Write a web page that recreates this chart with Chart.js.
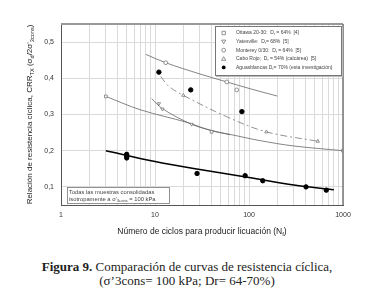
<!DOCTYPE html>
<html>
<head>
<meta charset="utf-8">
<script src="https://cdn.jsdelivr.net/npm/chart.js@4.4.0/dist/chart.umd.min.js"></script>
<style>
  body { margin: 0; background: #fff; width: 374px; height: 307px; overflow: hidden; position: relative; }
  #wrap { position: absolute; left: 0; top: 0; width: 374px; height: 245px; }
  .cap { position: absolute; left: 0; width: 374px; text-align: center; white-space: nowrap;
         font-family: "Liberation Serif", "Times New Roman", serif; font-size: 13px; color: #222; line-height: 15px; }
</style>
</head>
<body>
<div id="wrap"><canvas id="c"></canvas></div>
<div class="cap" style="top:259px"><b>Figura 9.</b> Comparación de curvas de resistencia cíclica,</div>
<div class="cap" style="top:273px">(σ’3cons= 100 kPa; Dr= 64-70%)</div>
<script>
// values (N cycles, CRR)
const ottawaN = [3, 40, 1000];
const ottawaCRR = [0.35, 0.252, 0.2];
const ottawaCurveN = [3, 7, 22, 40, 63, 130, 300, 1000];
const ottawaCurve = [0.35, 0.313, 0.278, 0.255, 0.245, 0.228, 0.213, 0.2];

const yatesN = [11, 12, 24.5];
const yatesCRR = [0.33, 0.315, 0.273];
const yatesCurveN = [9.2, 12, 24.5, 40, 63];
const yatesCurve = [0.344, 0.316, 0.273, 0.256, 0.244];

const montereyN = [13, 58, 74];
const montereyCRR = [0.443, 0.39, 0.368];
const montereyCurveN = [8, 13, 30, 58, 110, 200];
const montereyCurve = [0.466, 0.443, 0.412, 0.39, 0.369, 0.351];

const caboN = [20, 153, 540];
const caboCRR = [0.353, 0.252, 0.226];
const caboCurveN = [11.5, 14, 20, 60, 153, 540];
const caboCurve = [0.405, 0.378, 0.353, 0.292, 0.252, 0.226];

const aguasN = [5, 5, 5, 11, 24, 28, 84, 91, 140, 404, 664];
const aguasCRR = [0.19, 0.185, 0.18, 0.417, 0.368, 0.137, 0.308, 0.131, 0.117, 0.1, 0.091];
const aguasCurveN = [3, 10, 30, 100, 300, 800];
const aguasCurve = [0.2, 0.17, 0.148, 0.126, 0.105, 0.092];

const xTickValues = [1, 10, 100, 1000];
const xTickLabels = ['1', '10', '100', '1000'];
const yTickValues = [0.1, 0.2, 0.3, 0.4, 0.5];
const yTickLabels = ['0,1', '0,2', '0,3', '0,4', '0,5'];

const FAM = '"Liberation Sans", Arial, sans-serif';
Chart.defaults.font.family = FAM;

const pts = (xs, ys) => xs.map((x, i) => ({ x: x, y: ys[i] }));

function rich(ctx, segs, x, y, size, align) {
  let w = 0;
  segs.forEach(([t, sub]) => { ctx.font = (sub ? size * 0.7 : size) + 'px ' + FAM; w += ctx.measureText(t).width; });
  let cx = align === 'center' ? x - w / 2 : x;
  segs.forEach(([t, sub]) => {
    ctx.font = (sub ? size * 0.7 : size) + 'px ' + FAM;
    ctx.fillText(t, cx, y + (sub ? size * 0.28 : 0));
    cx += ctx.measureText(t).width;
  });
}

function marker(ctx, style, x, y) {
  ctx.save();
  ctx.lineWidth = 0.7;
  ctx.strokeStyle = '#666';
  ctx.fillStyle = '#fff';
  ctx.beginPath();
  if (style === 'rect') ctx.rect(x - 1.7, y - 1.7, 3.4, 3.4);
  else if (style === 'circle' || style === 'dot') ctx.arc(x, y, 1.9, 0, Math.PI * 2);
  else if (style === 'tri') { ctx.moveTo(x, y - 2.1); ctx.lineTo(x + 2.1, y + 1.5); ctx.lineTo(x - 2.1, y + 1.5); ctx.closePath(); }
  else if (style === 'itri') { ctx.moveTo(x, y + 2.1); ctx.lineTo(x + 2.1, y - 1.5); ctx.lineTo(x - 2.1, y - 1.5); ctx.closePath(); }
  if (style === 'dot') { ctx.fillStyle = '#000'; ctx.fill(); }
  else { ctx.fill(); ctx.stroke(); }
  ctx.restore();
}

const legendRows = [
  ['rect', [['Ottawa 20-30:  D'], ['r', 1], [' = 64%  [4]']]],
  ['itri', [['Yatesville:  D'], ['r', 1], ['= 68%  [5]']]],
  ['circle', [['Monterey 0/30:  D'], ['r', 1], [' = 64%  [5]']]],
  ['tri', [['Cabo Rojo;  D'], ['r', 1], [' = 54% (calcárea)  [5]']]],
  ['dot', [['Aguasblancas D'], ['r', 1], ['= 70% (esta investigación)']]]
];

const decor = {
  id: 'decor',
  afterDraw(chart) {
    const { ctx, chartArea: a } = chart;
    ctx.save();
    // frame
    ctx.strokeStyle = '#999'; ctx.lineWidth = 2;
    ctx.beginPath(); ctx.moveTo(a.left, a.top); ctx.lineTo(a.right, a.top); ctx.stroke();
    ctx.strokeStyle = '#777'; ctx.lineWidth = 1.5;
    ctx.beginPath(); ctx.moveTo(a.right, a.top); ctx.lineTo(a.right, a.bottom); ctx.stroke();

    // legend box
    ctx.fillStyle = '#bbb'; ctx.fillRect(216, 27, 127, 50);
    ctx.fillStyle = '#fff'; ctx.fillRect(215, 26, 127, 50);
    ctx.strokeStyle = '#777'; ctx.lineWidth = 1; ctx.strokeRect(215.5, 26.5, 126, 49);
    ctx.textBaseline = 'middle';
    legendRows.forEach(([st, segs], i) => {
      const y = 33 + i * 8.6;
      marker(ctx, st, 223.7, y);
      ctx.fillStyle = '#444';
      rich(ctx, segs, 236, y, 5, 'left');
    });

    // note box
    ctx.fillStyle = '#fff'; ctx.fillRect(67, 187, 103, 17);
    ctx.strokeStyle = '#777'; ctx.lineWidth = 0.8; ctx.strokeRect(67.5, 187.5, 102, 16);
    ctx.fillStyle = '#444';
    rich(ctx, [['Todas las muestras consolidadas']], 69, 192, 5.8, 'left');
    rich(ctx, [["isotropamente a σ'"], ['3cons', 1], [' = 100 kPa']], 69, 199, 5.8, 'left');

    // axis titles
    ctx.fillStyle = '#222';
    rich(ctx, [['Número de ciclos para producir licuación (N'], ['f', 1], [')']], (a.left + a.right) / 2, 232, 8.5, 'center');
    ctx.translate(30, (a.top + a.bottom) / 2);
    ctx.rotate(-Math.PI / 2);
    rich(ctx, [['Relación de resistencia cíclica, CRR'], ['TX', 1], [' (σ'], ['d', 1], ["/2σ'"], ['3cons', 1], [')']], 0, 0, 8, 'center');
    ctx.restore();
  }
};

const openPt = (style, rot) => ({
  showLine: false, pointStyle: style, pointRotation: rot || 0, pointRadius: 1.9,
  pointBackgroundColor: '#fff', pointBorderColor: '#666', pointBorderWidth: 0.7, order: 0
});
const curve = (color, width, dash) => ({
  showLine: true, pointRadius: 0, borderColor: color, borderWidth: width, borderDash: dash || [],
  tension: 0.35, fill: false, order: 1
});

new Chart(document.getElementById('c'), {
  type: 'scatter',
  data: {
    datasets: [
      Object.assign({ label: 'Ottawa 20-30', data: pts(ottawaN, ottawaCRR) }, openPt('rect')),
      Object.assign({ label: 'Yatesville', data: pts(yatesN, yatesCRR) }, openPt('triangle', 180)),
      Object.assign({ label: 'Monterey 0/30', data: pts(montereyN, montereyCRR) }, openPt('circle')),
      Object.assign({ label: 'Cabo Rojo', data: pts(caboN, caboCRR) }, openPt('triangle')),
      { label: 'Aguasblancas', data: pts(aguasN, aguasCRR), showLine: false, pointStyle: 'circle',
        pointRadius: 2.2, pointBackgroundColor: '#000', pointBorderColor: '#000', order: 0 },
      Object.assign({ label: 'Ottawa fit', data: pts(ottawaCurveN, ottawaCurve) }, curve('#666', 0.8)),
      Object.assign({ label: 'Yatesville fit', data: pts(yatesCurveN, yatesCurve) }, curve('#666', 0.8)),
      Object.assign({ label: 'Monterey fit', data: pts(montereyCurveN, montereyCurve) }, curve('#666', 0.8)),
      Object.assign({ label: 'Cabo Rojo fit', data: pts(caboCurveN, caboCurve) }, curve('#777', 0.8, [7, 3, 2, 3])),
      Object.assign({ label: 'Aguasblancas fit', data: pts(aguasCurveN, aguasCurve) }, curve('#000', 1.5))
    ]
  },
  options: {
    responsive: true, maintainAspectRatio: false, animation: false,
    layout: { padding: { left: 0, top: 24, right: 31, bottom: 0 } },
    plugins: { legend: { display: false }, tooltip: { enabled: false } },
    scales: {
      x: {
        type: 'logarithmic', min: 1, max: 1000,
        afterBuildTicks: s => {
          const t = [];
          [1, 10, 100].forEach(d => { for (let k = 1; k < 10; k++) t.push({ value: d * k }); });
          t.push({ value: 1000 });
          s.ticks = t;
        },
        afterFit: s => { s.height = 40; },
        border: { color: '#555', width: 1 },
        grid: { color: '#dadada', lineWidth: 1, drawTicks: false },
        ticks: {
          autoSkip: false, maxRotation: 0, padding: 6, color: '#333', font: { size: 7 },
          callback: v => { const i = xTickValues.indexOf(v); return i >= 0 ? xTickLabels[i] : ''; }
        }
      },
      y: {
        min: 0.05, max: 0.55,
        afterBuildTicks: s => { s.ticks = yTickValues.map(v => ({ value: v })); },
        afterFit: s => { s.width = 61; },
        border: { color: '#555', width: 1 },
        grid: { color: '#dadada', lineWidth: 1, drawTicks: false },
        ticks: {
          padding: 7, color: '#333', font: { size: 7 },
          callback: v => { const i = yTickValues.findIndex(t => Math.abs(t - v) < 1e-6); return i >= 0 ? yTickLabels[i] : ''; }
        }
      }
    }
  },
  plugins: [decor]
});
</script>
</body>
</html>
